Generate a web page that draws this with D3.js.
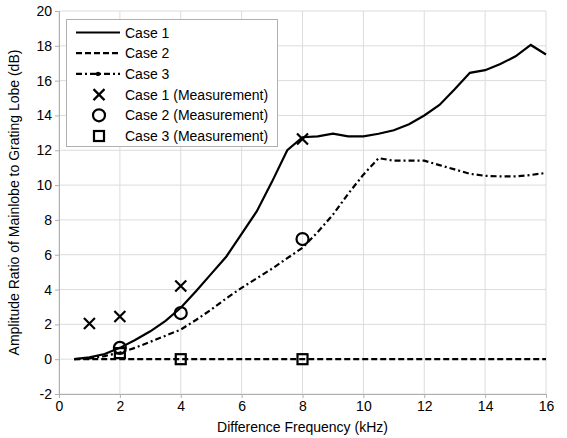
<!DOCTYPE html>
<html>
<head>
<meta charset="utf-8">
<script src="https://cdn.jsdelivr.net/npm/d3@7"></script>
<style>
  body { margin: 0; background: #fff; }
  text { font-family: "Liberation Sans", Arial, sans-serif; }
</style>
</head>
<body>
<svg id="chart" width="567" height="438"></svg>
<script>
// simulated curves
const case1X = [0.5, 1, 1.5, 2, 2.5, 3, 3.5, 4, 4.5, 5, 5.5, 6, 6.5, 7, 7.5, 8, 8.5, 9, 9.5, 10, 10.5, 11, 11.5, 12, 12.5, 13, 13.5, 14, 14.5, 15, 15.5, 16];
const case1Y = [0, 0.1, 0.3, 0.65, 1.1, 1.6, 2.2, 2.95, 3.9, 4.9, 5.9, 7.2, 8.5, 10.2, 12.0, 12.75, 12.8, 12.95, 12.8, 12.8, 12.95, 13.15, 13.5, 14.0, 14.6, 15.5, 16.45, 16.6, 16.95, 17.4, 18.05, 17.5];

const case2X = [0.5, 16];
const case2Y = [0, 0];

const case3X = [0.5, 1, 1.5, 2, 2.5, 3, 3.5, 4, 4.5, 5, 5.5, 6, 6.5, 7, 7.5, 8, 8.5, 9, 9.5, 10, 10.5, 11, 11.5, 12, 12.5, 13, 13.5, 14, 14.5, 15, 15.5, 16];
const case3Y = [0, 0.05, 0.18, 0.38, 0.65, 1.0, 1.35, 1.7, 2.25, 2.85, 3.5, 4.1, 4.65, 5.2, 5.8, 6.4, 7.3, 8.3, 9.5, 10.6, 11.55, 11.4, 11.4, 11.4, 11.15, 10.9, 10.65, 10.53, 10.5, 10.5, 10.58, 10.7];

// measurements
const meas1X = [1, 2, 4, 8];
const meas1Y = [2.05, 2.45, 4.2, 12.65];
const meas2X = [2, 4, 8];
const meas2Y = [0.65, 2.65, 6.9];
const meas3X = [2, 4, 8];
const meas3Y = [0.35, 0, 0];

const xTicks = [0, 2, 4, 6, 8, 10, 12, 14, 16];
const yTicks = [-2, 0, 2, 4, 6, 8, 10, 12, 14, 16, 18, 20];

const legendLabels = ["Case 1", "Case 2", "Case 3", "Case 1 (Measurement)", "Case 2 (Measurement)", "Case 3 (Measurement)"];

const margin = { left: 59, right: 21, top: 11, bottom: 44 };
const width = 567, height = 438;

const svg = d3.select('#chart');

const x = d3.scaleLinear().domain([0, 16]).range([margin.left, width - margin.right]);
const y = d3.scaleLinear().domain([-2, 20]).range([height - margin.bottom, margin.top]);

// grid
svg.append('g')
  .selectAll('line.vg')
  .data(xTicks)
  .enter().append('line')
  .attr('x1', d => x(d)).attr('x2', d => x(d))
  .attr('y1', y(-2)).attr('y2', y(20))
  .attr('stroke', '#dcdcdc').attr('stroke-width', 1);

svg.append('g')
  .selectAll('line.hg')
  .data(yTicks)
  .enter().append('line')
  .attr('x1', x(0)).attr('x2', x(16))
  .attr('y1', d => y(d)).attr('y2', d => y(d))
  .attr('stroke', '#dcdcdc').attr('stroke-width', 1);

// axes (plain hyphen for negatives, like the original)
const fmt = d => String(d);
const xAxis = svg.append('g')
  .attr('transform', `translate(0,${y(-2)})`)
  .call(d3.axisBottom(x).tickValues(xTicks).tickFormat(fmt).tickSize(4).tickPadding(3));
const yAxis = svg.append('g')
  .attr('transform', `translate(${x(0)},0)`)
  .call(d3.axisLeft(y).tickValues(yTicks).tickFormat(fmt).tickSize(4).tickPadding(3));

[xAxis, yAxis].forEach(a => {
  a.selectAll('path, line').attr('stroke', '#b0b0b0');
  a.selectAll('text').attr('fill', '#000').style('font-size', '14px');
});

// axis titles
svg.append('text')
  .attr('x', x(8)).attr('y', 432)
  .attr('text-anchor', 'middle')
  .style('font-size', '14px')
  .text('Difference Frequency (kHz)');

svg.append('text')
  .attr('transform', `translate(19,${y(9)}) rotate(-90)`)
  .attr('text-anchor', 'middle')
  .style('font-size', '14px')
  .text('Amplitude Ratio of Mainlobe to Grating Lobe (dB)');

// lines
const line = d3.line().x(d => x(d[0])).y(d => y(d[1]));
const zip = (a, b) => a.map((v, i) => [v, b[i]]);

const plot = svg.append('g');

plot.append('path')
  .datum(zip(case1X, case1Y))
  .attr('d', line)
  .attr('fill', 'none').attr('stroke', '#000').attr('stroke-width', 2.2);

plot.append('path')
  .datum(zip(case2X, case2Y))
  .attr('d', line)
  .attr('fill', 'none').attr('stroke', '#000').attr('stroke-width', 2.2)
  .attr('stroke-dasharray', '6,3');

plot.append('path')
  .datum(zip(case3X, case3Y))
  .attr('d', line)
  .attr('fill', 'none').attr('stroke', '#000').attr('stroke-width', 2.2)
  .attr('stroke-dasharray', '6,3,2,3');

// markers
function drawCross(g, cx, cy) {
  const s = 5.5;
  g.append('path')
    .attr('d', `M${cx - s},${cy - s}L${cx + s},${cy + s}M${cx - s},${cy + s}L${cx + s},${cy - s}`)
    .attr('stroke', '#000').attr('stroke-width', 2.2).attr('fill', 'none');
}
function drawCircle(g, cx, cy) {
  g.append('circle').attr('cx', cx).attr('cy', cy).attr('r', 6)
    .attr('stroke', '#000').attr('stroke-width', 2.2).attr('fill', 'none');
}
function drawSquare(g, cx, cy) {
  g.append('rect').attr('x', cx - 5).attr('y', cy - 5).attr('width', 10).attr('height', 10)
    .attr('stroke', '#000').attr('stroke-width', 2.2).attr('fill', 'none');
}

meas1X.forEach((v, i) => drawCross(plot, x(v), y(meas1Y[i])));
meas2X.forEach((v, i) => drawCircle(plot, x(v), y(meas2Y[i])));
meas3X.forEach((v, i) => drawSquare(plot, x(v), y(meas3Y[i])));

// legend
const lg = svg.append('g');
lg.append('rect')
  .attr('x', 66.5).attr('y', 19.5).attr('width', 211).attr('height', 127)
  .attr('fill', '#fff').attr('stroke', '#b0b0b0').attr('stroke-width', 1);

const rowY = i => 32.5 + i * 20.7;
const dashes = [null, '6,3', '6,3,2,3'];

legendLabels.forEach((label, i) => {
  const cy = rowY(i);
  if (i < 3) {
    const l = lg.append('line')
      .attr('x1', 76).attr('x2', 120).attr('y1', cy).attr('y2', cy)
      .attr('stroke', '#000').attr('stroke-width', 2.2);
    if (dashes[i]) l.attr('stroke-dasharray', dashes[i]);
    if (i === 2) lg.append('circle').attr('cx', 98).attr('cy', cy).attr('r', 2.2).attr('fill', '#000');
  } else if (i === 3) {
    drawCross(lg, 99, cy);
  } else if (i === 4) {
    drawCircle(lg, 99, cy);
  } else {
    drawSquare(lg, 99, cy);
  }
  lg.append('text')
    .attr('x', 125).attr('y', cy + 5)
    .style('font-size', '14px')
    .text(label);
});
</script>
</body>
</html>
